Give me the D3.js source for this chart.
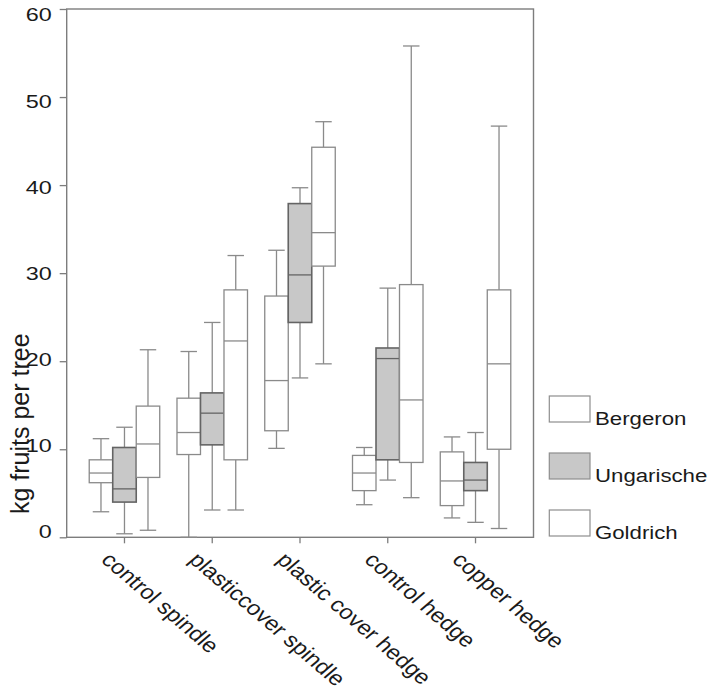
<!DOCTYPE html>
<html>
<head>
<meta charset="utf-8">
<script src="https://cdn.jsdelivr.net/npm/d3@7"></script>
<style>
  html, body { margin: 0; padding: 0; background: #fff; }
  svg { display: block; }
  text { font-family: "Liberation Sans", Arial, Helvetica, sans-serif; fill: #1a1a1a; }
</style>
</head>
<body>
<svg id="chart" width="711" height="690"></svg>
<script>
// ---- data ----
const categories = ["control spindle", "plasticcover spindle", "plastic cover hedge", "control hedge", "copper hedge"];
const series = ["Bergeron", "Ungarische", "Goldrich"];
const yTicks = [0, 10, 20, 30, 40, 50, 60];

const bergeronMin = [2.9, 0.0, 10.1, 3.7, 2.2];
const bergeronQ1  = [6.2, 9.4, 12.1, 5.3, 3.6];
const bergeronMed = [7.3, 11.9, 17.8, 7.3, 6.4];
const bergeronQ3  = [8.8, 15.8, 27.4, 9.3, 9.7];
const bergeronMax = [11.2, 21.1, 32.6, 10.2, 11.4];

const ungarischeMin = [0.4, 3.1, 18.1, 6.5, 1.7];
const ungarischeQ1  = [4.0, 10.5, 24.4, 8.8, 5.3];
const ungarischeMed = [5.5, 14.1, 29.8, 20.3, 6.5];
const ungarischeQ3  = [10.2, 16.4, 37.9, 21.5, 8.5];
const ungarischeMax = [12.5, 24.4, 39.7, 28.3, 11.9];

const goldrichMin = [0.8, 3.1, 19.7, 4.5, 1.0];
const goldrichQ1  = [6.8, 8.8, 30.8, 8.5, 10.0];
const goldrichMed = [10.6, 22.3, 34.6, 15.6, 19.7];
const goldrichQ3  = [14.9, 28.1, 44.3, 28.7, 28.1];
const goldrichMax = [21.3, 32.0, 47.2, 55.8, 46.7];

const stats = {
  Bergeron:   [bergeronMin, bergeronQ1, bergeronMed, bergeronQ3, bergeronMax],
  Ungarische: [ungarischeMin, ungarischeQ1, ungarischeMed, ungarischeQ3, ungarischeMax],
  Goldrich:   [goldrichMin, goldrichQ1, goldrichMed, goldrichQ3, goldrichMax]
};
const boxes = [];
series.forEach(s => categories.forEach((c, i) => {
  const a = stats[s];
  boxes.push({series: s, cat: c, min: a[0][i], q1: a[1][i], med: a[2][i], q3: a[3][i], max: a[4][i]});
}));

// ---- styles ----
const fills = {Bergeron: "#ffffff", Ungarische: "#c8c8c8", Goldrich: "#ffffff"};
const strokes = {Bergeron: "#8a8a8a", Ungarische: "#646464", Goldrich: "#8a8a8a"};
const frameColor = "#7d7d7d";

const svg = d3.select("#chart");
const plot = {left: 66.7, right: 533.5, top: 9, bottom: 537.3};

const y = d3.scaleLinear().domain([0, 60]).range([plot.bottom, plot.top]);
const yLabel = d3.scaleLinear().domain([0, 60]).range([532, 15]);
const x = d3.scaleBand().domain(categories).range([80.6, 519.4]).paddingInner(0).paddingOuter(0);
const xs = d3.scaleBand().domain(series).range([0, x.bandwidth()]).paddingInner(0).paddingOuter(0.367);

// frame
svg.append("rect")
  .attr("x", plot.left).attr("y", plot.top)
  .attr("width", plot.right - plot.left).attr("height", plot.bottom - plot.top)
  .attr("fill", "none").attr("stroke", frameColor).attr("stroke-width", 1.4);

// y axis ticks
const yAxis = svg.append("g").attr("transform", `translate(${plot.left},0)`)
  .call(d3.axisLeft(y).tickValues(yTicks).tickSize(7).tickFormat(""));
yAxis.select(".domain").remove();
yAxis.selectAll("line").attr("stroke", frameColor).attr("stroke-width", 1.3);

// y labels
svg.append("g").selectAll("g").data(yTicks).join("g")
  .attr("transform", d => `translate(51.7,${yLabel(d)}) scale(1.3,1)`)
  .append("text")
  .attr("text-anchor", "end").attr("dy", "0.36em")
  .attr("font-size", 18)
  .text(d => d);

// x axis ticks
const xAxis = svg.append("g").attr("transform", `translate(0,${plot.bottom})`)
  .call(d3.axisBottom(x).tickSize(6).tickFormat(""));
xAxis.select(".domain").remove();
xAxis.selectAll("line").attr("stroke", frameColor).attr("stroke-width", 1.3);

// x labels
svg.append("g").selectAll("g").data(categories).join("g")
  .attr("transform", d => `translate(${x(d) + x.bandwidth() / 2 - 24.5},561) scale(1.17,1) rotate(45)`)
  .append("text")
  .attr("font-size", 20.5)
  .text(d => d);

// y title
svg.append("text")
  .attr("transform", "translate(28.5,514) rotate(-90)")
  .attr("font-size", 25)
  .text("kg fruits per tree");

// boxes
const g = svg.append("g");
const bw = xs.bandwidth();
const capW = bw * 0.7;
const bx = d => x(d.cat) + xs(d.series);
const whisk = "#8a8a8a";

const bg = g.selectAll("g.box").data(boxes).join("g").attr("class", "box");
bg.append("line")
  .attr("x1", d => bx(d) + bw / 2).attr("x2", d => bx(d) + bw / 2)
  .attr("y1", d => y(d.max)).attr("y2", d => y(d.q3))
  .attr("stroke", whisk).attr("stroke-width", 1.3);
bg.append("line")
  .attr("x1", d => bx(d) + bw / 2).attr("x2", d => bx(d) + bw / 2)
  .attr("y1", d => y(d.q1)).attr("y2", d => y(d.min))
  .attr("stroke", whisk).attr("stroke-width", 1.3);
bg.append("line")
  .attr("x1", d => bx(d) + (bw - capW) / 2).attr("x2", d => bx(d) + (bw + capW) / 2)
  .attr("y1", d => y(d.max)).attr("y2", d => y(d.max))
  .attr("stroke", whisk).attr("stroke-width", 1.3);
bg.append("line")
  .attr("x1", d => bx(d) + (bw - capW) / 2).attr("x2", d => bx(d) + (bw + capW) / 2)
  .attr("y1", d => y(d.min)).attr("y2", d => y(d.min))
  .attr("stroke", whisk).attr("stroke-width", 1.3);
bg.append("rect")
  .attr("x", d => bx(d)).attr("width", bw)
  .attr("y", d => y(d.q3)).attr("height", d => y(d.q1) - y(d.q3))
  .attr("fill", d => fills[d.series])
  .attr("stroke", d => strokes[d.series]).attr("stroke-width", d => d.series === "Ungarische" ? 1.6 : 1.3);
bg.append("line")
  .attr("x1", d => bx(d)).attr("x2", d => bx(d) + bw)
  .attr("y1", d => y(d.med)).attr("y2", d => y(d.med))
  .attr("stroke", d => strokes[d.series]).attr("stroke-width", 1.3);

// legend
const legendY = d3.scalePoint().domain(series).range([396, 510]);
const lg = svg.append("g").selectAll("g").data(series).join("g")
  .attr("transform", d => `translate(549.3,${legendY(d)})`);
lg.append("rect")
  .attr("width", 40.7).attr("height", 26)
  .attr("fill", d => fills[d]).attr("stroke", "#8e8e8e").attr("stroke-width", 1.2);
lg.append("g").attr("transform", "translate(45.7,28.5) scale(1.17,1)")
  .append("text").attr("font-size", 19).text(d => d);
</script>
</body>
</html>
